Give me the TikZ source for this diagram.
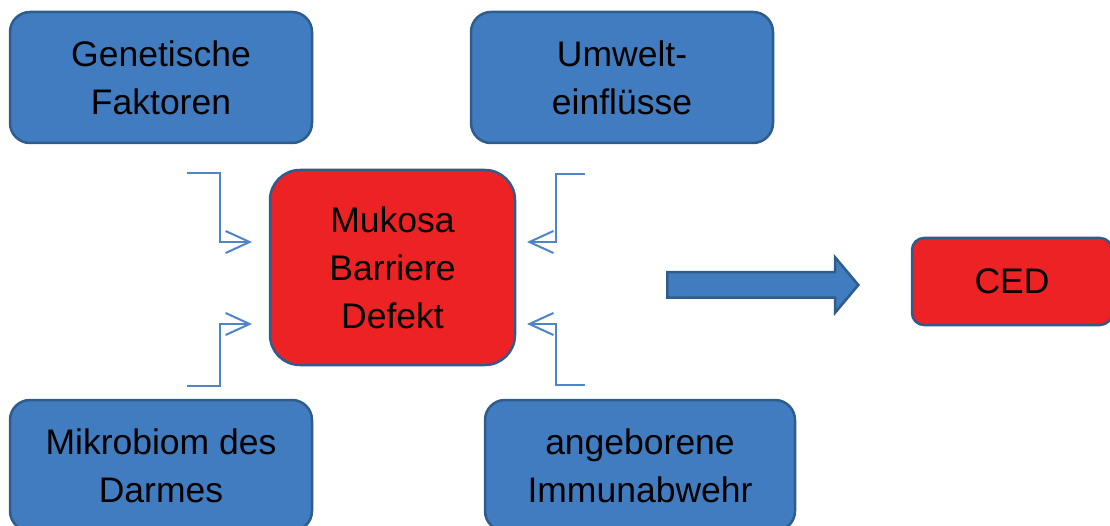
\documentclass[tikz,border=0pt]{standalone}
\usepackage{fontspec}
\setmainfont{Liberation Sans}
\usepackage{xcolor}
\usepackage{tikz}
\usetikzlibrary{arrows.meta, shapes.arrows, calc}

\definecolor{boxblue}{RGB}{64,124,191}
\definecolor{edgeblue}{RGB}{46,92,140}
\definecolor{boxred}{RGB}{237,34,36}
\definecolor{linkblue}{RGB}{79,132,199}

\begin{document}
\begin{tikzpicture}[
  x=1pt, y=-1pt,
  factor/.style={rectangle, rounded corners=20pt, draw=edgeblue, line width=2.5pt, fill=boxblue, minimum width=302pt, minimum height=131pt, align=center, text=black, font=\fontsize{35.5}{48}\selectfont},
  defect/.style={factor, fill=boxred, rounded corners=30pt, minimum width=245pt, minimum height=195pt},
  outcome/.style={factor, fill=boxred, rounded corners=12pt, minimum width=200pt, minimum height=87pt},
  elbow/.style={draw=linkblue, line width=2pt, -{Straight Barb[length=24pt, width=22pt]}},
  bigarrow/.style={single arrow, draw=edgeblue, line width=2.5pt, fill=boxblue, inner xsep=0pt, inner ysep=11.5pt, single arrow head extend=15pt, single arrow tip angle=100, minimum height=191pt}
]
  \useasboundingbox (0,0) rectangle (1110,526);

  \node[factor] (gen) at (161,77.5) {Genetische\\Faktoren};
  \node[factor] (umw) at (622,77.5) {Umwelt-\\einflüsse};
  \node[factor] (mik) at (161,465.5) {Mikrobiom des\\Darmes};
  \node[factor, minimum width=310pt] (imm) at (640,465.5) {angeborene\\Immunabwehr};
  \node[defect] (muk) at (392.5,267.5) {Mukosa\\Barriere\\Defekt};
  \node[outcome] (ced) at (1012,281.5) {CED};
  \node[bigarrow] (pfeil) at (757.5,285) {};

  \coordinate (gsrc) at (187,173);
  \coordinate (gdst) at (252,242);
  \coordinate (usrc) at (585,174);
  \coordinate (udst) at (527,242);
  \coordinate (msrc) at (187,386);
  \coordinate (mdst) at (252,324);
  \coordinate (isrc) at (585,385);
  \coordinate (idst) at (527,324);

  \draw[elbow] (gsrc) -| ($(gsrc)!0.5!(gdst)$) |- (gdst);
  \draw[elbow] (usrc) -| ($(usrc)!0.5!(udst)$) |- (udst);
  \draw[elbow] (msrc) -| ($(msrc)!0.5!(mdst)$) |- (mdst);
  \draw[elbow] (isrc) -| ($(isrc)!0.5!(idst)$) |- (idst);
\end{tikzpicture}
\end{document}
